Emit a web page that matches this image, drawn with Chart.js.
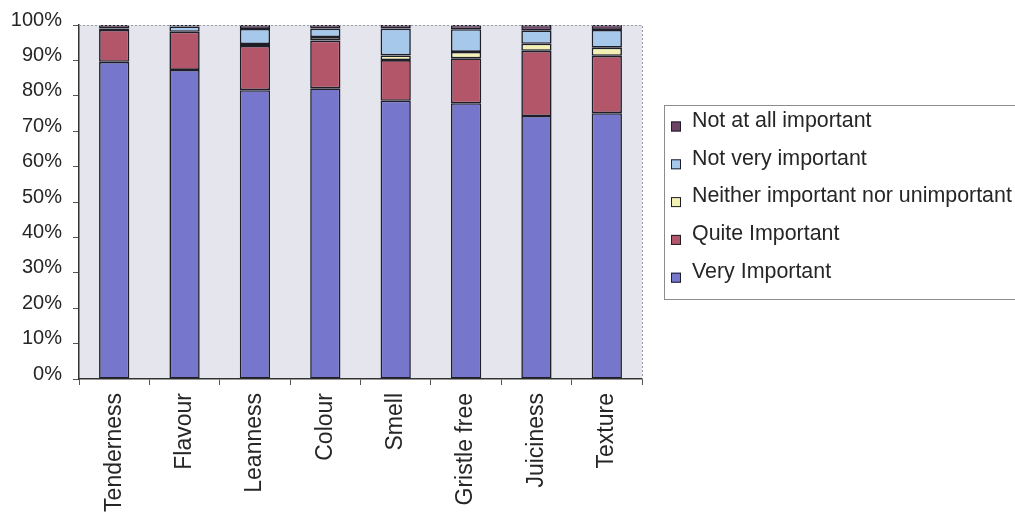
<!DOCTYPE html>
<html>
<head>
<meta charset="utf-8">
<script src="https://cdn.jsdelivr.net/npm/chart.js@4/dist/chart.umd.min.js"></script>
<style>
  html, body { margin: 0; padding: 0; background: #ffffff; }
  #wrap { width: 1015px; height: 514px; }
</style>
</head>
<body>
<div id="wrap"><canvas id="c" width="1015" height="514"></canvas></div>
<script>
// Importance of meat attributes, share of respondents (%)
const categories = ['Tenderness', 'Flavour', 'Leanness', 'Colour', 'Smell', 'Gristle free', 'Juiciness', 'Texture'];
const veryImportant     = [89.6, 87.3, 81.6, 82.1, 78.6, 77.9, 74.3, 75.1];
const quiteImportant    = [ 9.0, 10.8, 12.5, 13.5, 11.5, 12.7, 18.4, 16.2];
const neitherImportant  = [ 0.0,  0.0,  0.5,  1.0,  1.3,  1.8,  2.0,  2.3];
const notVeryImportant  = [ 0.4,  1.5,  4.3,  2.4,  7.6,  6.4,  3.8,  5.0];
const notAtAllImportant = [ 1.0,  0.4,  1.1,  1.0,  1.0,  1.2,  1.5,  1.4];
const yTickValues = [0, 10, 20, 30, 40, 50, 60, 70, 80, 90, 100];

const FONT = "'Liberation Sans', Arial, sans-serif";
const TEXT = '#262626';
const EDGE = '#1e1e28';

const seriesDefs = [
  { label: 'Very Important', data: veryImportant, color: '#7676cc' },
  { label: 'Quite Important', data: quiteImportant, color: '#b4566a' },
  { label: 'Neither important nor unimportant', data: neitherImportant, color: '#f2f0b2' },
  { label: 'Not very important', data: notVeryImportant, color: '#a6c8ea' },
  { label: 'Not at all important', data: notAtAllImportant, color: '#6e4466' }
];

const datasets = seriesDefs.map(s => ({
  label: s.label,
  data: s.data,
  backgroundColor: s.color,
  borderColor: EDGE,
  borderWidth: 1.6,
  borderSkipped: false,
  categoryPercentage: 1.0,
  barPercentage: 0.43
}));

// Plot-area fill plus the dotted top/right frame
const plotFrame = {
  id: 'plotFrame',
  beforeDraw(chart) {
    const { ctx, chartArea: a } = chart;
    ctx.save();
    ctx.fillStyle = '#e5e5ed';
    ctx.fillRect(a.left, a.top, a.right - a.left, a.bottom - a.top);
    ctx.restore();
  },
  afterDatasetsDraw(chart) {
    const { ctx, chartArea: a } = chart;
    ctx.save();
    ctx.strokeStyle = '#9a9aa4';
    ctx.lineWidth = 1;
    ctx.setLineDash([2, 2]);
    ctx.beginPath();
    ctx.moveTo(a.left, a.top + 0.5);
    ctx.lineTo(a.right + 0.5, a.top + 0.5);
    ctx.lineTo(a.right + 0.5, a.bottom);
    ctx.stroke();
    ctx.restore();
  }
};

// Boxed legend to the right of the plot, top series listed first
const sideLegend = {
  id: 'sideLegend',
  afterDraw(chart) {
    const { ctx } = chart;
    const boxLeft = 664, boxTop = 105, boxBottom = 299, boxRight = 1020;
    ctx.save();
    ctx.strokeStyle = '#8c8c8c';
    ctx.lineWidth = 1;
    ctx.strokeRect(boxLeft + 0.5, boxTop + 0.5, boxRight - boxLeft, boxBottom - boxTop);
    const items = chart.data.datasets.slice().reverse();
    ctx.font = '21.4px ' + FONT;
    ctx.textBaseline = 'middle';
    ctx.textAlign = 'left';
    items.forEach((ds, i) => {
      const cy = 121 + i * 37.8;
      ctx.fillStyle = ds.backgroundColor;
      ctx.fillRect(671, cy + 0.5, 10, 10);
      ctx.strokeStyle = EDGE;
      ctx.lineWidth = 1;
      ctx.strokeRect(671.5, cy + 1, 9, 9);
      ctx.fillStyle = TEXT;
      ctx.fillText(ds.label, 692, cy);
    });
    ctx.restore();
  }
};

new Chart(document.getElementById('c'), {
  type: 'bar',
  data: { labels: categories, datasets },
  plugins: [plotFrame, sideLegend],
  options: {
    responsive: false,
    animation: false,
    devicePixelRatio: 1,
    layout: { padding: { top: 25, right: 373, left: 0, bottom: 0 } },
    plugins: { legend: { display: false }, tooltip: { enabled: false } },
    scales: {
      x: {
        stacked: true,
        grid: { offset: true, drawOnChartArea: false, drawTicks: true, tickLength: 6, color: '#555', lineWidth: 1 },
        border: { display: true, color: '#333', width: 1.5 },
        ticks: { maxRotation: 90, minRotation: 90, autoSkip: false, padding: 8, color: TEXT, font: { family: FONT, size: 23 } },
        afterFit(s) { s.height = 135; }
      },
      y: {
        stacked: true,
        min: 0,
        max: 100,
        afterBuildTicks(s) { s.ticks = yTickValues.map(v => ({ value: v })); },
        grid: { drawOnChartArea: false, drawTicks: true, tickLength: 6, color: '#555', lineWidth: 1 },
        border: { display: true, color: '#333', width: 1.5 },
        ticks: { padding: 11, labelOffset: -5, color: TEXT, font: { family: FONT, size: 20 }, callback: v => v + '%' },
        afterFit(s) { s.width = 79; }
      }
    }
  }
});
</script>
</body>
</html>
